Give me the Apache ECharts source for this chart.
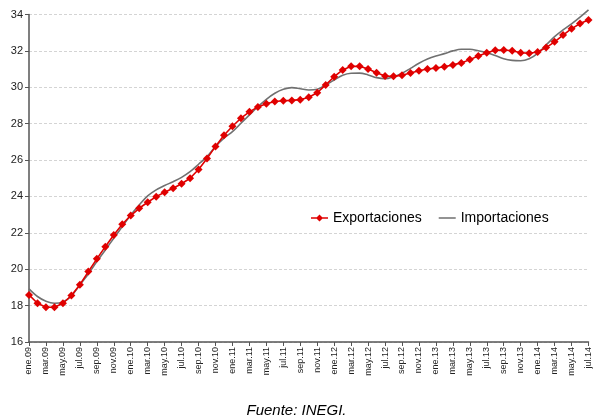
<!DOCTYPE html>
<html><head><meta charset="utf-8">
<script src="https://cdn.jsdelivr.net/npm/echarts@6/dist/echarts.min.js"></script>
<style>html,body{margin:0;padding:0;background:#fff}#c{width:593px;height:419px}</style>
</head><body><div id="c"></div>
<script>
const categories = [
 'ene.09','feb.09','mar.09','abr.09','may.09','jun.09','jul.09','ago.09','sep.09','oct.09','nov.09','dic.09',
 'ene.10','feb.10','mar.10','abr.10','may.10','jun.10','jul.10','ago.10','sep.10','oct.10','nov.10','dic.10',
 'ene.11','feb.11','mar.11','abr.11','may.11','jun.11','jul.11','ago.11','sep.11','oct.11','nov.11','dic.11',
 'ene.12','feb.12','mar.12','abr.12','may.12','jun.12','jul.12','ago.12','sep.12','oct.12','nov.12','dic.12',
 'ene.13','feb.13','mar.13','abr.13','may.13','jun.13','jul.13','ago.13','sep.13','oct.13','nov.13','dic.13',
 'ene.14','feb.14','mar.14','abr.14','may.14','jun.14','jul.14'
];
const exportaciones = [
 18.59, 18.13, 17.91, 17.91, 18.13, 18.55, 19.15, 19.87, 20.57, 21.24, 21.88, 22.47,
 22.95, 23.35, 23.68, 23.99, 24.23, 24.45, 24.70, 25.00, 25.48, 26.08, 26.75, 27.36,
 27.86, 28.30, 28.65, 28.92, 29.10, 29.22, 29.26, 29.28, 29.32, 29.45, 29.70, 30.13,
 30.58, 30.95, 31.15, 31.15, 31.00, 30.80, 30.62, 30.60, 30.66, 30.79, 30.91, 31.00,
 31.06, 31.13, 31.23, 31.34, 31.52, 31.72, 31.90, 32.03, 32.05, 32.01, 31.90, 31.87,
 31.94, 32.18, 32.50, 32.87, 33.22, 33.50, 33.70
];
const importaciones = [
 18.92, 18.50, 18.24, 18.13, 18.20, 18.53, 19.14, 19.74, 20.42, 21.06, 21.70, 22.34,
 22.98, 23.53, 24.03, 24.36, 24.60, 24.81, 25.05, 25.36, 25.77, 26.19, 26.74, 27.20,
 27.56, 28.02, 28.48, 28.93, 29.34, 29.67, 29.89, 29.98, 29.92, 29.85, 29.89, 30.13,
 30.40, 30.66, 30.77, 30.78, 30.68, 30.53, 30.47, 30.58, 30.77, 31.04, 31.32, 31.55,
 31.72, 31.85, 32.00, 32.09, 32.09, 32.01, 31.90, 31.74, 31.57, 31.48, 31.46, 31.57,
 31.87, 32.32, 32.78, 33.15, 33.48, 33.85, 34.25
];
const yTicks = {min: 16, max: 34, interval: 2};
const seriesNames = ['Exportaciones', 'Importaciones'];
const fuente = 'Fuente: INEGI.';

const chart = echarts.init(document.getElementById('c'), null, {renderer: 'canvas'});
const font = 'Liberation Sans, Arial, sans-serif';
const bounds = 'M0,0 L0.01,0 L0.01,0.01 Z M17,14 L16.99,14 L16.99,13.99 Z ';
const iconExp = 'path://' + bounds + 'M0,6.2 L17,6.2 L17,7.8 L0,7.8 Z M8.5,3.5 L12,7 L8.5,10.5 L5,7 Z';
const iconImp = 'path://' + bounds + 'M0,6.2 L17,6.2 L17,7.8 L0,7.8 Z';
chart.setOption({
  animation: false,
  backgroundColor: '#ffffff',
  grid: {left: 29, right: 2, top: 14.5, bottom: 77, containLabel: false},
  legend: {
    data: [
      {name: seriesNames[0], icon: iconExp},
      {name: seriesNames[1], icon: iconImp}
    ],
    left: 306, top: 206, itemWidth: 17, itemHeight: 14, itemGap: 17,
    textStyle: {fontFamily: font, fontSize: 14, color: '#000'}
  },
  xAxis: {
    type: 'category', data: categories, boundaryGap: false,
    axisLine: {lineStyle: {color: '#555', width: 1.5}},
    axisTick: {show: true, interval: 1, length: 4, inside: false, lineStyle: {color: '#555'}},
    axisLabel: {interval: 1, rotate: 90, margin: 5, fontFamily: font, fontSize: 9, color: '#222'},
    splitLine: {show: false}
  },
  yAxis: {
    type: 'value', min: yTicks.min, max: yTicks.max, interval: yTicks.interval,
    axisLine: {show: true, lineStyle: {color: '#555', width: 1.5}},
    axisTick: {show: true, length: 4, lineStyle: {color: '#555'}},
    axisLabel: {margin: 6, fontFamily: font, fontSize: 11, color: '#222'},
    splitLine: {show: true, lineStyle: {color: '#d4d4d4', type: [3, 2], width: 1}}
  },
  graphic: [{
    type: 'text', left: 'center', top: 403,
    style: {text: fuente, font: 'italic 15px Liberation Sans, Arial, sans-serif', fill: '#000', textAlign: 'center'}
  }],
  series: [
    {
      name: seriesNames[1], type: 'line', data: importaciones, smooth: 0.35,
      symbol: 'none', clip: false, z: 2,
      lineStyle: {color: '#707070', width: 1.6},
      itemStyle: {color: '#707070'}
    },
    {
      name: seriesNames[0], type: 'line', data: exportaciones, smooth: false,
      symbol: 'diamond', symbolSize: 8, showAllSymbol: true, z: 3,
      lineStyle: {color: '#e00000', width: 1.6},
      itemStyle: {color: '#e00000', borderWidth: 0}
    }
  ]
});
</script></body></html>
